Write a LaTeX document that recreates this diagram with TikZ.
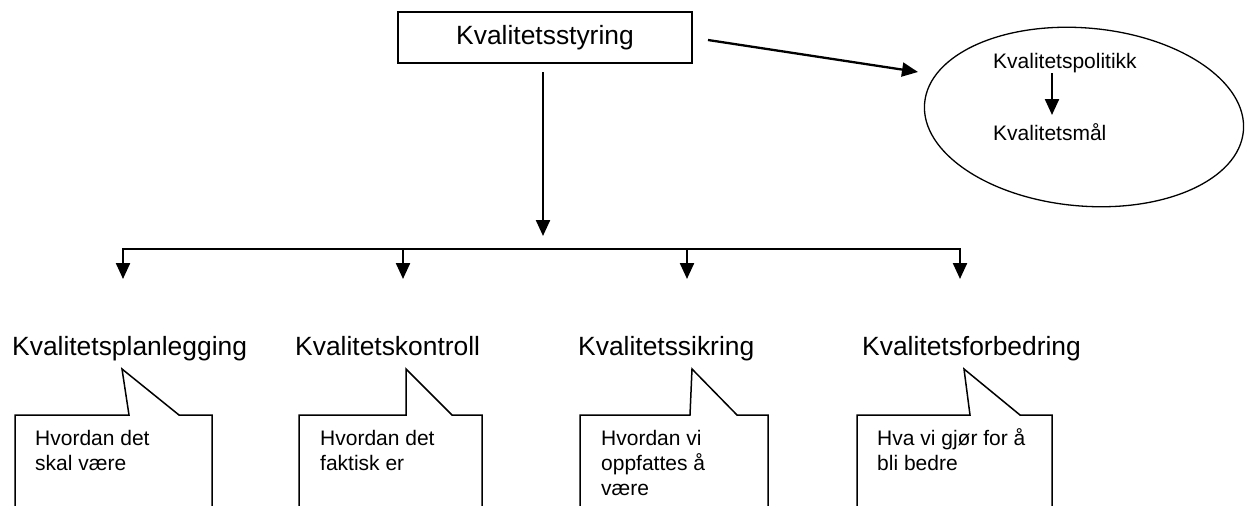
\documentclass[tikz,border=0pt]{standalone}
\usepackage{fontspec}
\setmainfont{Liberation Sans}
\usetikzlibrary{shapes.geometric,arrows.meta}
\begin{document}
\begin{tikzpicture}[x=1pt,y=-1pt,
  arr/.style={line width=2.3pt,-{Triangle[length=16pt,width=14pt]}},
  bigfont/.style={font=\fontsize{26.4}{30}\selectfont},
  lbl/.style={bigfont,anchor=base west,inner sep=0pt},
  etxt/.style={anchor=base west,inner sep=0pt,font=\fontsize{21}{25}\selectfont},
  txt/.style={anchor=north west,inner sep=0pt,align=left,font=\fontsize{21}{25}\selectfont},
  callout/.style={line width=1.5pt,line join=miter}]
\useasboundingbox (0,0) rectangle (1248,506);
\fill[white] (0,0) rectangle (1248,506);
\begin{scope}
\clip (0,0) rectangle (1248,506);
% top box
\node[draw,line width=1.7pt,minimum width=294pt,minimum height=51pt,inner sep=0pt,bigfont] (top) at (545,37.5) {Kvalitetsstyring};
% ellipse
\node[draw,ellipse,line width=1.3pt,minimum width=320pt,minimum height=178pt,rotate=-5] (ell) at (1084,117) {};
\node[etxt] (pol) at (993,68) {Kvalitetspolitikk};
\node[etxt] (maal) at (993,140) {Kvalitetsmål};
\coordinate (p1) at (1052,73);
\coordinate (p2) at (1052,115);
\draw[arr] (p1) -- (p2);
% arrow to ellipse
\coordinate (e1) at (708,40);
\coordinate (e2) at (918,72);
\draw[arr] (e1) -- (e2);
% main down arrow
\coordinate (m1) at (543,72);
\coordinate (m2) at (543,236);
\draw[arr] (m1) -- (m2);
% branch line
\coordinate (h1) at (123,249);
\coordinate (h2) at (403,249);
\coordinate (h3) at (687,249);
\coordinate (h4) at (960,249);
\draw[line width=2.3pt,line cap=rect] (h1) -- (h4);
\foreach \i in {1,...,4}{
  \draw[arr] (h\i) -- ++(0,30);
}
% labels
\node[lbl] (l1) at (12,355) {Kvalitetsplanlegging};
\node[lbl] (l2) at (295,355) {Kvalitetskontroll};
\node[lbl] (l3) at (578,355) {Kvalitetssikring};
\node[lbl] (l4) at (862,355) {Kvalitetsforbedring};
% callouts
\draw[callout] (15,512) -- (15,415) -- (129,415) -- (122,369) -- (179,415) -- (212,415) -- (212,512);
\draw[callout] (299,512) -- (299,415) -- (406,415) -- (406,369) -- (452,415) -- (482,415) -- (482,512);
\draw[callout] (580,512) -- (580,415) -- (690,415) -- (692,369) -- (737,415) -- (768,415) -- (768,512);
\draw[callout] (857,512) -- (857,415) -- (970,415) -- (964,369) -- (1020,415) -- (1052,415) -- (1052,512);
\node[txt] (c1) at (35,427.5) {\strut Hvordan det\\skal være};
\node[txt] (c2) at (320,427.5) {\strut Hvordan det\\faktisk er};
\node[txt] (c3) at (601,427.5) {\strut Hvordan vi\\oppfattes å\\være};
\node[txt] (c4) at (877,427.5) {\strut Hva vi gjør for å\\bli bedre};
\end{scope}
\end{tikzpicture}
\end{document}
